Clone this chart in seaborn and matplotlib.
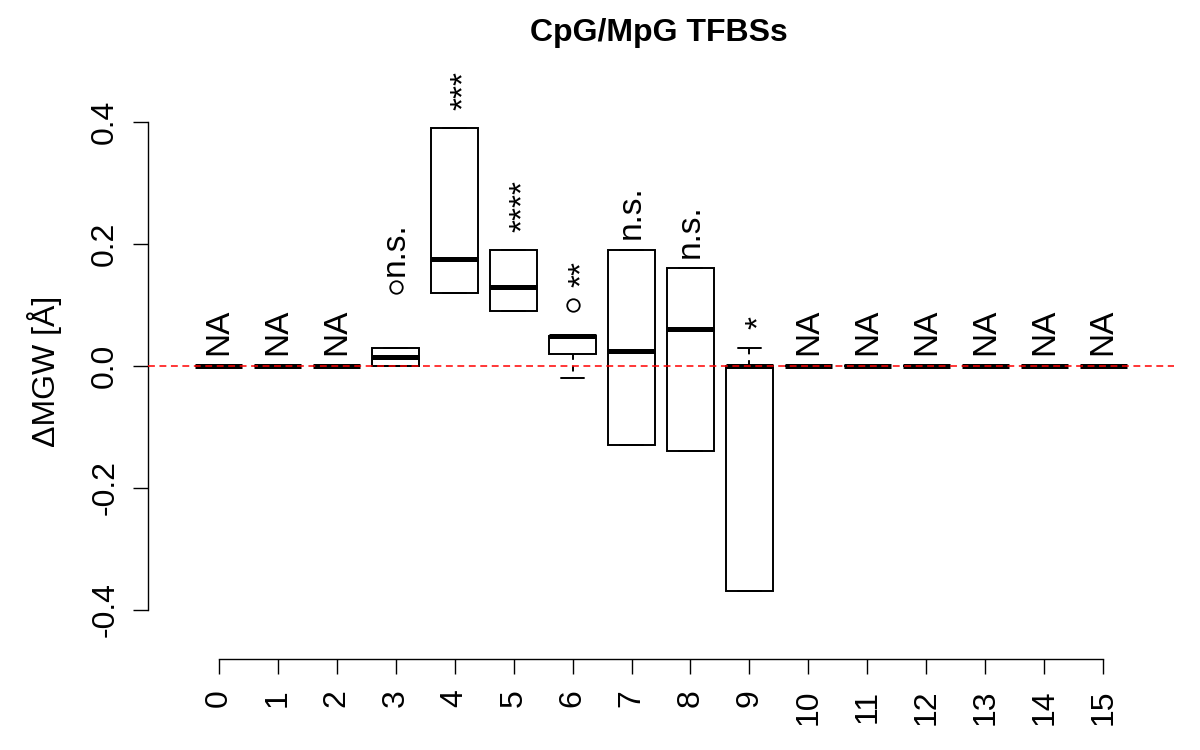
import numpy as np
import pandas as pd
import matplotlib
matplotlib.use("Agg")
import matplotlib.pyplot as plt
import seaborn as sns

# -----------------------------------------------------------------------------
# Box summaries (one entry per position 0..15)
# -----------------------------------------------------------------------------
groups = [str(i) for i in range(16)]
whisker_lo = [0, 0, 0, 0, 0.12, 0.09, -0.02, -0.13, -0.14, -0.37,
              0, 0, 0, 0, 0, 0]
box_lo = [0, 0, 0, 0, 0.12, 0.09, 0.02, -0.13, -0.14, -0.37,
          0, 0, 0, 0, 0, 0]
medians = [0, 0, 0, 0.015, 0.175, 0.13, 0.05, 0.025, 0.06, 0,
           0, 0, 0, 0, 0, 0]
box_hi = [0, 0, 0, 0.03, 0.39, 0.19, 0.05, 0.19, 0.16, 0,
          0, 0, 0, 0, 0, 0]
whisker_hi = [0, 0, 0, 0.03, 0.39, 0.19, 0.05, 0.19, 0.16, 0.03,
              0, 0, 0, 0, 0, 0]
outlier_groups = ["3", "6"]
outlier_values = [0.13, 0.10]
signif = ["NA", "NA", "NA", "n.s.", "***", "****", "**", "n.s.", "n.s.", "*",
          "NA", "NA", "NA", "NA", "NA", "NA"]

# long table: the five numbers of each box, so that quartiles land on them
rows = []
for g, a, b, c, d, e in zip(groups, whisker_lo, box_lo, medians, box_hi,
                            whisker_hi):
    for v in (a, b, c, d, e):
        rows.append({"pos": g, "mgw": v})
df = pd.DataFrame(rows)

sns.set_style("ticks")
plt.rcParams["font.family"] = ["Liberation Sans", "DejaVu Sans"]
plt.rcParams["axes.unicode_minus"] = False
for k in ("text.color", "axes.labelcolor", "xtick.color", "ytick.color",
          "axes.edgecolor"):
    plt.rcParams[k] = "black"

fig = plt.figure(figsize=(12, 7.5), dpi=100)
ax = fig.add_axes([148 / 1200, 91 / 750, 1026 / 1200, 555 / 750])

sns.boxplot(data=df, x="pos", y="mgw", order=groups, whis=(0, 100),
            width=0.8, color="white", linecolor="black", linewidth=1.4,
            showfliers=False,
            medianprops={"linewidth": 3.6, "color": "black"},
            whiskerprops={"linestyle": (0, (3, 3))},
            ax=ax)
sns.stripplot(x=outlier_groups, y=outlier_values, order=groups, jitter=False,
              color="white", edgecolor="black", linewidth=1.3, size=9,
              ax=ax, zorder=5)

ax.axhline(0, color="red", linestyle=(0, (4.5, 3)), linewidth=1.1, zorder=10)

# significance labels above each box
for i, lab in enumerate(signif):
    top = whisker_hi[i]
    for g, v in zip(outlier_groups, outlier_values):
        if g == groups[i]:
            top = max(top, v)
    dx, dy = 0, 0.018
    if set(lab) == {"*"}:
        # asterisks sit high in the glyph box; nudge them onto the box centre
        dx, dy = 0.16, 0.03
    ax.text(i + dx, top + dy, lab, rotation=90, ha="center", va="bottom",
            fontsize=24, color="black")

ax.set_xlim(-1.2, 16.2)
ax.set_ylim(-0.481, 0.43)
sns.despine(ax=ax)
ax.spines["left"].set_bounds(-0.4, 0.4)
ax.spines["bottom"].set_bounds(0, 15)
for s in ("left", "bottom"):
    ax.spines[s].set_linewidth(1.0)
    ax.spines[s].set_color("black")

ax.set_xticks(range(16))
ax.set_xticklabels(groups, rotation=90)
yt = [-0.4, -0.2, 0.0, 0.2, 0.4]
ax.set_yticks(yt)
ax.set_yticklabels(["-0.4", "-0.2", "0.0", "0.2", "0.4"], rotation=90,
                   va="center")
ax.tick_params(axis="x", length=11, width=1.0, pad=11, labelsize=23,
               color="black", labelcolor="black")
ax.tick_params(axis="y", length=11, width=1.0, pad=9, labelsize=23,
               color="black", labelcolor="black")
ax.set_xlabel("")
ax.set_ylabel("")

fig.text(45 / 1200, 1 - 371 / 750, "\u0394MGW [\u00c5]", rotation=90,
         ha="center", va="center", fontsize=23, color="black")
fig.text(659 / 1200, 1 - 33 / 750, "CpG/MpG TFBSs", ha="center", va="center",
         fontsize=23, fontweight="bold", color="black")

fig.savefig("out.png", dpi=100)
